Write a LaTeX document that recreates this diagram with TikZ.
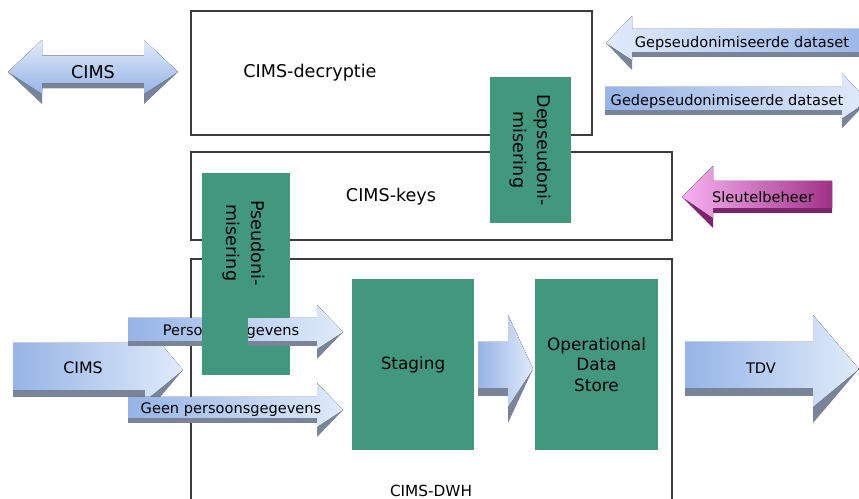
\documentclass[tikz,border=0pt]{standalone}
\usepackage{fontspec}
\setmainfont{DejaVu Sans}
\usepackage{tikz}

\definecolor{boxgreen}{RGB}{65,152,124}
\definecolor{boxline}{RGB}{60,60,60}
\definecolor{arrowdark}{RGB}{150,180,230}
\definecolor{arrowlight}{RGB}{224,235,250}
\definecolor{arrowshadow}{RGB}{122,132,152}
\definecolor{keydark}{RGB}{160,50,135}
\definecolor{keylight}{RGB}{248,178,242}
\definecolor{keyshadow}{RGB}{125,35,105}

% face, edge, tail, head base, tip, middle, half shaft, half head, edge width
\newcommand{\fatarrow}[9]{
    \fill[#2] (#3,#6-#7) -- (#4,#6-#7) -- (#4,#6-#8) -- (#5,#6) -- (#4,#6+#8) -- (#4,#6+#7) -- (#3,#6+#7) -- cycle;
    \fill[#1] (#3,#6-#7) -- (#4,#6-#7) -- (#4,#6-#8) -- (#5,#6) -- (#4,#6+#8-2*#9) -- (#4,#6+#7-#9) -- (#3,#6+#7-#9) -- cycle;
}

\begin{document}
\begin{tikzpicture}[x=0.02cm,y=-0.02cm]
        \tikzstyle{every node} = [font=\fontsize{10}{14}\selectfont, text=black]
        \tikzstyle{whitebox} = [rectangle, draw=boxline, line width=0.8pt]
        \tikzstyle{greenbox} = [rectangle, fill=boxgreen]
        \tikzstyle{small} = [font=\fontsize{8.3}{10}\selectfont]
        \tikzstyle{rightface} = [left color=arrowdark, right color=arrowlight]
        \tikzstyle{leftface} = [left color=arrowlight, right color=arrowdark]
        \tikzstyle{keyface} = [left color=keylight, right color=keydark]
        \tikzstyle{blueedge} = [fill=arrowshadow]
        \tikzstyle{keyedge} = [fill=keyshadow]
        \useasboundingbox (0,0) rectangle (859,499);

        % boxes
        \node[whitebox, minimum width=8.02cm, minimum height=2.48cm] (decryptie) at (391.5,73) {};
        \node[whitebox, minimum width=9.62cm, minimum height=1.76cm] (keys) at (431.5,196) {};
        \draw[boxline, line width=0.8pt] (191,499) -- (191,259) -- (672,259) -- (672,499);
        \node (decryptietxt) at (310,73) {CIMS-decryptie};
        \node (keystxt) at (391,197) {CIMS-keys};
        \node[font=\fontsize{8.7}{10}\selectfont] (dwhtxt) at (431,491) {CIMS-DWH};

        % CIMS both ways
        \fill[blueedge] (8,72) -- (42,40) -- (42,55.5) -- (144,55.5) -- (144,40) -- (178,72)
            -- (144,104) -- (144,88.5) -- (42,88.5) -- (42,104) -- cycle;
        \fill[top color=arrowlight, bottom color=arrowdark] (8,72) -- (42,40) -- (42,55.5) -- (144,55.5)
            -- (144,40) -- (178,72) -- (144,94) -- (144,83.5) -- (42,83.5) -- (42,94) -- cycle;
        \node (cimsout) at (93,72) {CIMS};

        % datasets and keys
        \fatarrow{leftface}{blueedge}{880}{632}{606}{43}{14}{27}{5}
        \fatarrow{rightface}{blueedge}{605}{842}{868}{101}{14}{27.5}{5}
        \fatarrow{keyface}{keyedge}{832}{713}{682}{197}{16}{31}{5}
        \node[small] (gep) at (742,43) {Gepseudonimiseerde dataset};
        \node[small] (gedep) at (727,101) {Gedepseudonimiseerde dataset};
        \node[small] (sleutel) at (763,197) {Sleutelbeheer};

        % pseudonimisering sits partly under the arrow
        \node[greenbox, minimum width=1.76cm, minimum height=4.04cm] (pseudo) at (246,274) {};
        \node[rotate=-90, align=center] (pseudotxt) at (244,243) {Pseudoni-\\misering};

        % flow through the DWH
        \foreach \a/\b/\c/\m/\s/\h/\d in {13/145/183/370/27/45/7, 128/317/343/410/13/27/5,
            478/508/533/369/27/54/8, 685/813/859/369/27/54/8}
        {
            \fatarrow{rightface}{blueedge}{\a}{\b}{\c}{\m}{\s}{\h}{\d}
        }
        \begin{scope}
            \clip (0,0) rectangle (202,499) (248,0) rectangle (859,499);
            \fatarrow{rightface}{blueedge}{128}{317}{343}{332}{14}{27}{5}
            \node[small] (pers) at (231,332) {Persoonsgegevens};
        \end{scope}
        \node[font=\fontsize{9}{11}\selectfont] (cimsin) at (83,368) {CIMS};
        \node[small] (geen) at (231,410) {Geen persoonsgegevens};
        \node[small] (tdv) at (761,368) {TDV};

        % green blocks
        \node[greenbox, rotate=-90, align=center, minimum width=2.92cm, minimum height=1.62cm] (depseudo) at (530.5,150) {Depseudoni-\\misering};
        \node[greenbox, font=\fontsize{9.6}{11.6}\selectfont, minimum width=2.44cm, minimum height=3.42cm] (staging) at (413,364.5) {Staging};
        \node[greenbox, font=\fontsize{9.6}{11.6}\selectfont, align=center, minimum width=2.46cm, minimum height=3.42cm] (ods) at (596.5,364.5) {Operational\\Data\\Store};
    \end{tikzpicture}
\end{document}
